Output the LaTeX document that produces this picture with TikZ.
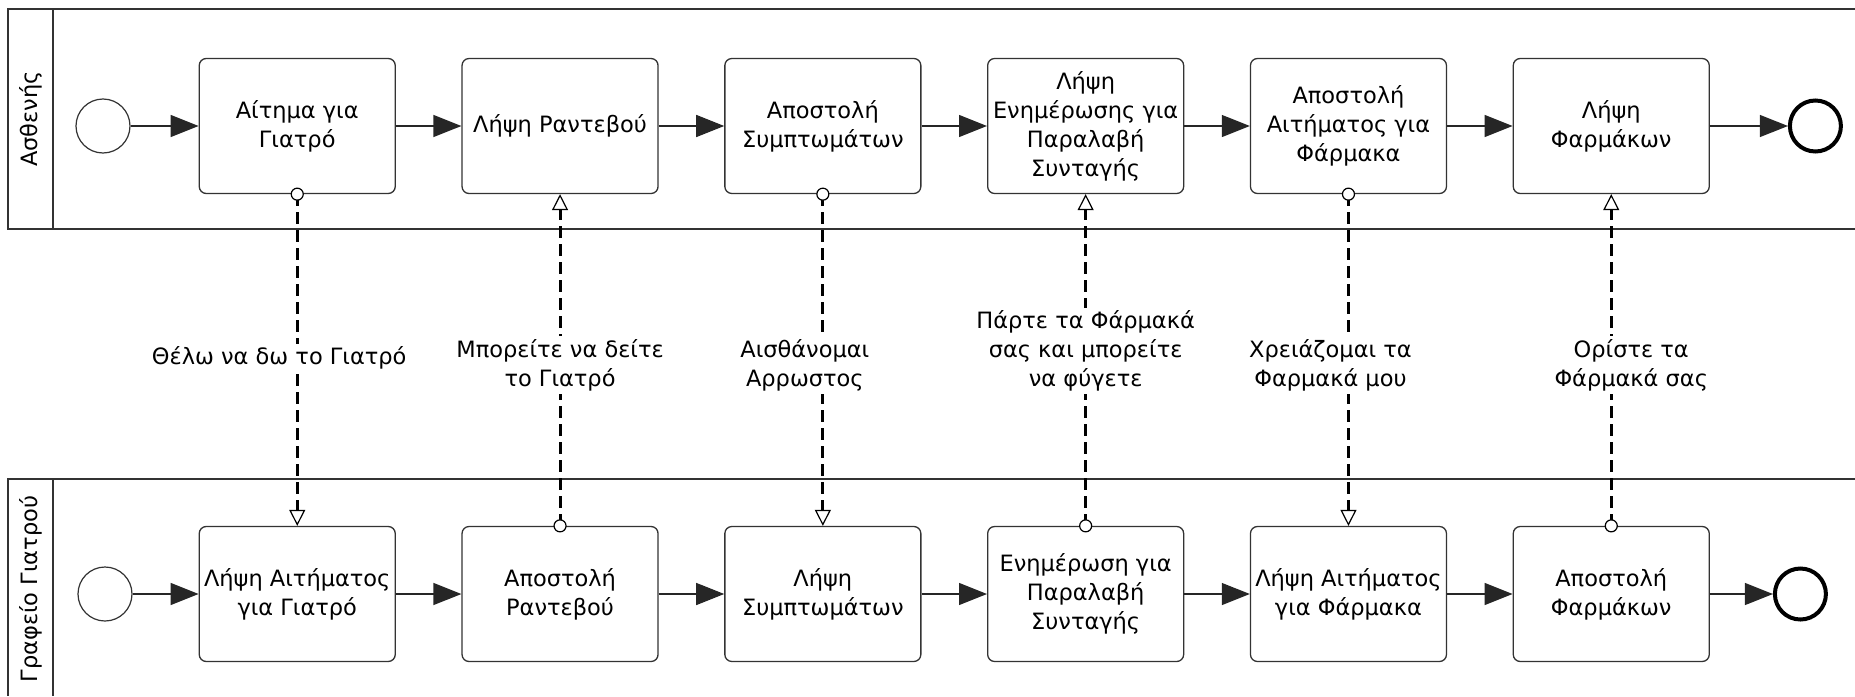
\documentclass[tikz,border=0pt]{standalone}
\usepackage{fontspec}
\setmainfont{DejaVu Sans}
\usetikzlibrary{positioning,arrows.meta}

\begin{document}
\begin{tikzpicture}[x=1pt, y=-1pt,
    every node/.append style={font=\fontsize{22.5}{29}\selectfont},
    task/.style={draw=black!80, line width=1.3pt, rounded corners=7pt, fill=white,
      minimum width=196pt, minimum height=135pt, align=center, inner sep=0pt},
    startev/.style={circle, draw=black!80, line width=1.2pt, minimum size=54pt, inner sep=0pt},
    endev/.style={circle, draw=black, line width=4pt, minimum size=51pt, inner sep=0pt},
    flow/.style={draw=black!85, line width=1.3pt, -{Triangle[length=28pt, width=22pt]}},
    msg/.style={line width=3pt, dash pattern=on 12pt off 6pt,
      -{Triangle[open, length=16pt, width=16pt, line width=1.2pt, fill=white]}},
    msgsrc/.style={circle, draw, solid, line width=1.2pt, fill=white, minimum size=12pt, inner sep=0pt},
    msglabel/.style={fill=white, align=center, inner sep=3pt},
    lane/.style={draw=black!80, line width=1.3pt},
    lanename/.style={rotate=90}]
  \useasboundingbox (0,0) rectangle (1855,696);

  \draw[lane] (1855,9) -| (8,229) -- (1855,229);
  \draw[lane] (53,9) -- (53,229);
  \node[lanename] (patient) at (30.5,119) {Ασθενής};
  \draw[lane] (1855,479) -| (8,696);
  \draw[lane] (53,479) -- (53,696);
  \node[lanename] (office) at (30.5,589) {Γραφείο Γιατρού};

  \node[startev] (pstart) at (103,126) {};
  \node[task, right=68pt of pstart] (p1) {Αίτημα για\\Γιατρό};
  \node[task, right=65.5pt of p1] (p2) {Λήψη Ραντεβού};
  \node[task, right=65.5pt of p2] (p3) {Αποστολή\\Συμπτωμάτων};
  \node[task, right=65.5pt of p3] (p4) {Λήψη\\Ενημέρωσης για\\Παραλαβή\\Συνταγής};
  \node[task, right=65.5pt of p4] (p5) {Αποστολή\\Αιτήματος για\\Φάρμακα};
  \node[task, right=65.5pt of p5] (p6) {Λήψη\\Φαρμάκων};
  \node[endev, right=78pt of p6] (pend) {};

  \node[startev] (dstart) at (105,594) {};
  \node[task, right=66pt of dstart] (d1) {Λήψη Αιτήματος\\για Γιατρό};
  \node[task, right=65.5pt of d1] (d2) {Αποστολή\\Ραντεβού};
  \node[task, right=65.5pt of d2] (d3) {Λήψη\\Συμπτωμάτων};
  \node[task, right=65.5pt of d3] (d4) {Ενημέρωση για\\Παραλαβή\\Συνταγής};
  \node[task, right=65.5pt of d4] (d5) {Λήψη Αιτήματος\\για Φάρμακα};
  \node[task, right=65.5pt of d5] (d6) {Αποστολή\\Φαρμάκων};
  \node[endev, right=63pt of d6] (dend) {};

  \draw[flow] (pstart) -- (p1);
  \draw[flow] (p1) -- (p2);
  \draw[flow] (p2) -- (p3);
  \draw[flow] (p3) -- (p4);
  \draw[flow] (p4) -- (p5);
  \draw[flow] (p5) -- (p6);
  \draw[flow] (p6) -- (pend);

  \draw[flow] (dstart) -- (d1);
  \draw[flow] (d1) -- (d2);
  \draw[flow] (d2) -- (d3);
  \draw[flow] (d3) -- (d4);
  \draw[flow] (d4) -- (d5);
  \draw[flow] (d5) -- (d6);
  \draw[flow] (d6) -- (dend);

  \draw[msg] (p1.south) node[msgsrc] {} -- node[msglabel, xshift=-18pt, yshift=2pt] {Θέλω να δω το Γιατρό} (d1.north);
  \draw[msg] (d2.north) node[msgsrc] {} -- node[msglabel, yshift=-5pt] {Μπορείτε να δείτε\\το Γιατρό} (p2.south);
  \draw[msg] (p3.south) node[msgsrc] {} -- node[msglabel, xshift=-18pt, yshift=-5pt] {Αισθάνομαι\\Αρρωστος} (d3.north);
  \draw[msg] (d4.north) node[msgsrc] {} -- node[msglabel, yshift=9pt] {Πάρτε τα Φάρμακά\\σας και μπορείτε\\να φύγετε} (p4.south);
  \draw[msg] (p5.south) node[msgsrc] {} -- node[msglabel, xshift=-18pt, yshift=-5pt] {Χρειάζομαι τα\\Φαρμακά μου} (d5.north);
  \draw[msg] (d6.north) node[msgsrc] {} -- node[msglabel, xshift=20pt, yshift=-5pt] {Ορίστε τα\\Φάρμακά σας} (p6.south);
\end{tikzpicture}
\end{document}
